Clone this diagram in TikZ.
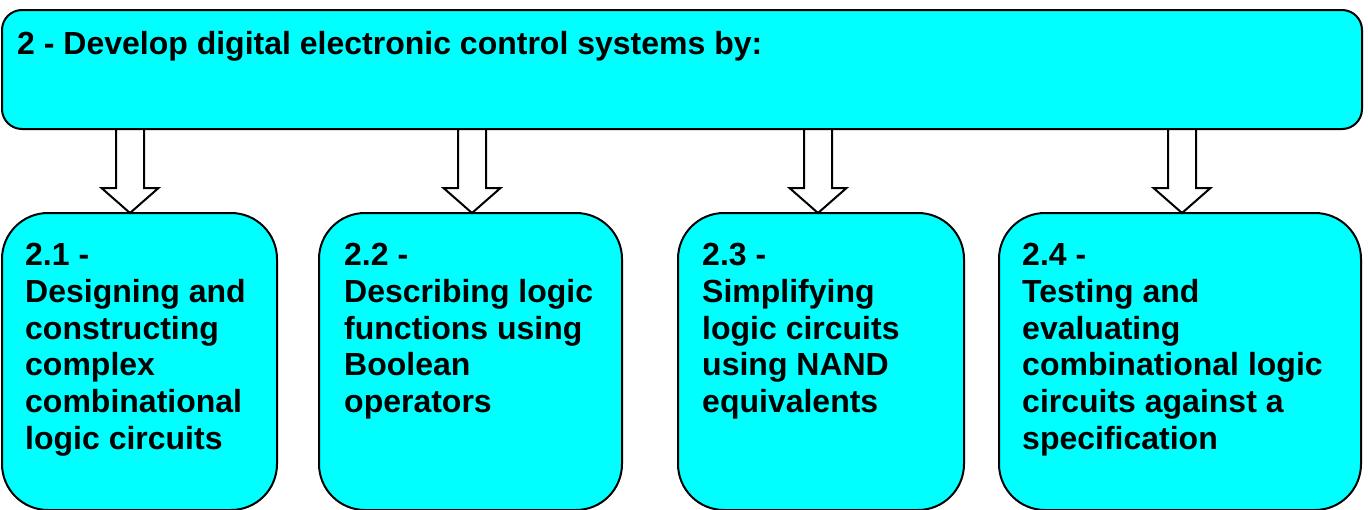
\documentclass[tikz,border=0pt]{standalone}
\usepackage{fontspec}
\setmainfont{Liberation Sans}
\usetikzlibrary{calc,positioning}
\definecolor{aimcyan}{RGB}{0,255,255}

\begin{document}
\begin{tikzpicture}[x=1pt,y=-1pt,
  box/.style={draw,line width=2pt,fill=aimcyan,rounded corners=#1,inner sep=0pt,outer sep=0pt},
  lbl/.style={anchor=north west,align=left,inner sep=0pt,font=\bfseries\fontsize{32}{36.8}\selectfont},
  blockarr/.style={draw,line width=2pt,fill=white,line join=miter}]
  \useasboundingbox (0,0) rectangle (1368,509);
  % main aim across the top
  \node[box=20pt,anchor=north west,minimum width=1360pt,minimum height=119pt] (top) at (2,10) {};
  \node[lbl] (title) at ([xshift=15pt,yshift=-21pt]top.north west) {2 - Develop digital electronic control systems by:};
  % the four sub-aims
  \node[box=46pt,anchor=north west,minimum width=275pt,minimum height=297pt] (b1) at (2,213) {};
  \node[box=46pt,minimum width=303pt,minimum height=297pt,right=42pt of b1] (b2) {};
  \node[box=46pt,minimum width=286pt,minimum height=297pt,right=56pt of b2] (b3) {};
  \node[box=46pt,minimum width=362pt,minimum height=297pt,right=35pt of b3] (b4) {};
  \node[lbl] (t1) at ([xshift=23pt,yshift=-30pt]b1.north west) {2.1 -\\Designing and\\constructing\\complex\\combinational\\logic circuits};
  \node[lbl] (t2) at ([xshift=25pt,yshift=-30pt]b2.north west) {2.2 -\\Describing logic\\functions using\\Boolean\\operators};
  \node[lbl] (t3) at ([xshift=24pt,yshift=-30pt]b3.north west) {2.3 -\\Simplifying\\logic circuits\\using NAND\\equivalents};
  \node[lbl] (t4) at ([xshift=23pt,yshift=-30pt]b4.north west) {2.4 -\\Testing and\\evaluating\\combinational logic\\circuits against a\\specification};
  % hollow block arrows down to each box
  \foreach \b/\dx in {b1/-9.5,b2/1.5,b3/-3,b4/2}
    \draw[blockarr] let \p1=(top.south), \p2=([xshift=\dx pt]\b.north) in
      (\x2-14pt,\y1) -- (\x2-14pt,\y2+25pt) -- (\x2-28.5pt,\y2+25pt) -- (\p2)
      -- (\x2+28.5pt,\y2+25pt) -- (\x2+14pt,\y2+25pt) -- (\x2+14pt,\y1) -- cycle;
\end{tikzpicture}
\end{document}
